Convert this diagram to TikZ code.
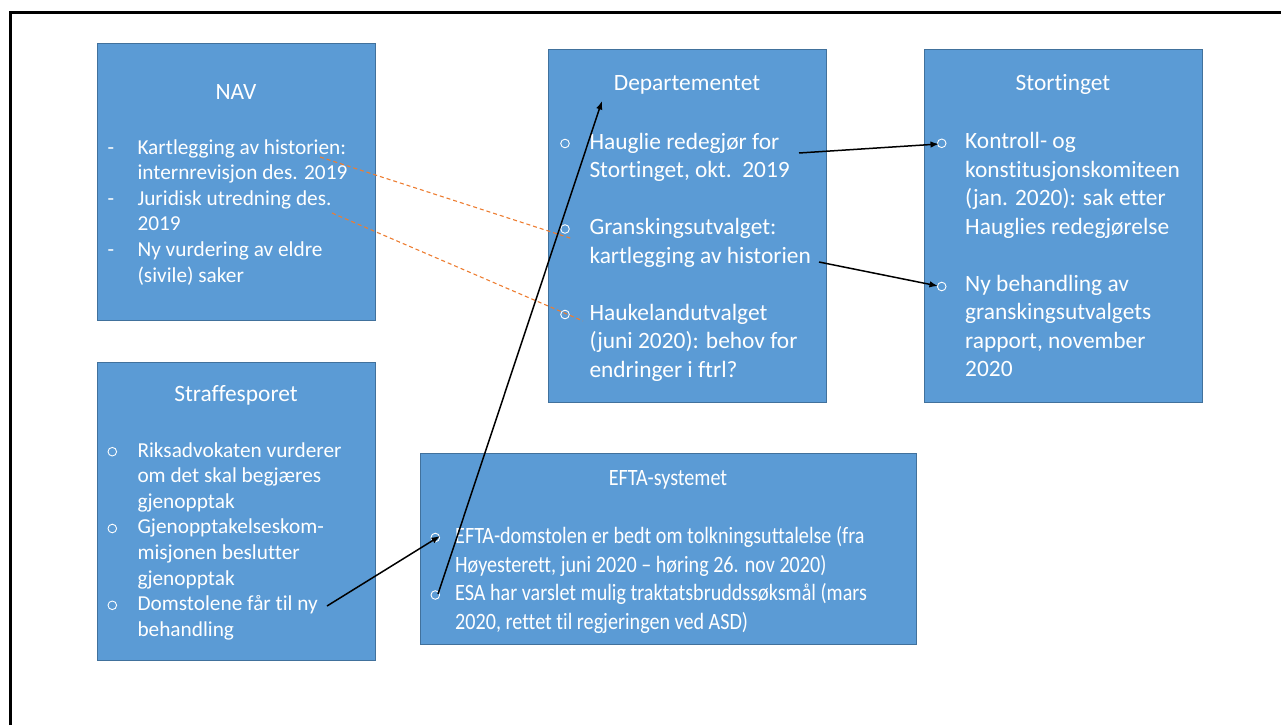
\documentclass[tikz,border=0pt]{standalone}
\usepackage{fontspec}
\setmainfont{Carlito}[Ligatures=CommonOff]
\newfontfamily\condfont[FakeStretch=0.86,Ligatures=CommonOff]{Carlito}
\usetikzlibrary{arrows.meta}
\definecolor{boxfill}{HTML}{5B9BD5}
\definecolor{boxline}{HTML}{41719C}
\definecolor{orangeln}{HTML}{ED7D31}
\newcommand\fbig{\fontsize{23.4}{28.5}\selectfont}
\newcommand\fsml{\fontsize{21.3}{25.6}\selectfont}
\newcommand\fefta{\condfont\fontsize{23.4}{28.5}\selectfont}
\begin{document}
\begin{tikzpicture}[x=1pt,y=-1pt,
  box/.style={draw=boxline, fill=boxfill, line width=1pt, anchor=north west, inner sep=0},
  lnb/.style={text=white, inner sep=0, anchor=base west, font=\fbig},
  lns/.style={text=white, inner sep=0, anchor=base west, font=\fsml},
  lne/.style={text=white, inner sep=0, anchor=base west, font=\fefta},
  bul/.style={circle, draw=white, line width=0.9pt, inner sep=0, minimum size=8.6pt},
  dashs/.style={text=white, inner sep=0, anchor=base, font=\fsml},
  ttl/.style={text=white, inner sep=0, anchor=base, font=\fbig},
  arr/.style={-{Latex[length=8.5pt,width=6.5pt]}, line width=1.5pt, black},
  dsh/.style={orangeln, dash pattern=on 4pt off 3pt, line width=1.1pt}]
\useasboundingbox (0,0) rectangle (1281,725);
\draw[line width=3pt] (10.5,725) -- (10.5,12.5) -- (1281,12.5);

% boxes
\node[box, minimum width=278pt, minimum height=277pt] (nav) at (97,43) {};
\node[box, minimum width=278pt, minimum height=353pt] (dep) at (548,49) {};
\node[box, minimum width=278pt, minimum height=353pt] (sto) at (924,49) {};
\node[box, minimum width=278pt, minimum height=298pt] (str) at (97,362) {};
\node[box, minimum width=496pt, minimum height=191pt] (efta) at (420,453) {};

% titles
\node[ttl] (navT) at (236,99) {NAV};
\node[ttl] (depT) at (687,90.5) {Departementet};
\node[ttl] (stoT) at (1063,90.5) {Stortinget};
\node[ttl] (strT) at (236,401.5) {Straffesporet};
\node[ttl, font=\fefta] (eftaT) at (668,485) {EFTA-systemet};

% NAV
\node[dashs] (navD1) at (111,154) {-};
\node[dashs] (navD2) at (111,205.2) {-};
\node[dashs] (navD3) at (111,256.4) {-};
\node[lns] (navL1) at (137.3,154) {Kartlegging av historien:};
\node[lns] (navL2) at (137.3,179.6) {internrevisjon des. 2019};
\node[lns] (navL3) at (137.3,205.2) {Juridisk utredning des.};
\node[lns] (navL4) at (137.3,230.8) {2019};
\node[lns] (navL5) at (137.3,256.4) {Ny vurdering av eldre};
\node[lns] (navL6) at (137.3,282) {(sivile) saker};

% Departementet
\node[bul] (depB1) at (565,143.5) {};
\node[bul] (depB2) at (565,229) {};
\node[bul] (depB3) at (565,314.5) {};
\node[lnb] (depL1) at (589.3,149) {Hauglie redegjør for};
\node[lnb] (depL2) at (589.3,177.5) {Stortinget, okt.\ \ 2019};
\node[lnb] (depL3) at (589.3,234.5) {Granskingsutvalget:};
\node[lnb] (depL4) at (589.3,263) {kartlegging av historien};
\node[lnb] (depL5) at (589.3,320) {Haukelandutvalget};
\node[lnb] (depL6) at (589.3,348.5) {(juni 2020): behov for};
\node[lnb] (depL7) at (589.3,377) {endringer i ftrl?};

% Stortinget
\node[bul] (stoB1) at (941.7,143.3) {};
\node[bul] (stoB2) at (941.7,286.5) {};
\node[lnb] (stoL1) at (965,148.5) {Kontroll- og};
\node[lnb] (stoL2) at (965,177) {konstitusjonskomiteen};
\node[lnb] (stoL3) at (965,205.5) {(jan. 2020): sak etter};
\node[lnb] (stoL4) at (965,234) {Hauglies redegjørelse};
\node[lnb] (stoL5) at (965,291) {Ny behandling av};
\node[lnb] (stoL6) at (965,319.5) {granskingsutvalgets};
\node[lnb] (stoL7) at (965,348) {rapport, november};
\node[lnb] (stoL8) at (965,376.5) {2020};

% Straffesporet
\node[bul] (strB1) at (112.3,451.7) {};
\node[bul] (strB2) at (112.3,528.5) {};
\node[bul] (strB3) at (112.3,605.3) {};
\node[lns] (strL1) at (137.3,457) {Riksadvokaten vurderer};
\node[lns] (strL2) at (137.3,482.6) {om det skal begjæres};
\node[lns] (strL3) at (137.3,508.2) {gjenopptak};
\node[lns] (strL4) at (137.3,533.8) {Gjenopptakelseskom-};
\node[lns] (strL5) at (137.3,559.4) {misjonen beslutter};
\node[lns] (strL6) at (137.3,585) {gjenopptak};
\node[lns] (strL7) at (137.3,610.6) {Domstolene får til ny};
\node[lns] (strL8) at (137.3,636.2) {behandling};

% EFTA
\node[bul] (eftaB1) at (435.3,537.5) {};
\node[bul] (eftaB2) at (435.3,595) {};
\node[lne] (eftaL1) at (455,543.5) {EFTA-domstolen er bedt om tolkningsuttalelse (fra};
\node[lne] (eftaL2) at (455,572) {Høyesterett, juni 2020 – høring 26. nov 2020)};
\node[lne] (eftaL3) at (455,600.5) {ESA har varslet mulig traktatsbruddssøksmål (mars};
\node[lne] (eftaL4) at (455,629) {2020, rettet til regjeringen ved ASD)};

% connector end points
\coordinate (c1a) at (327,606);
\coordinate (c1b) at (440,536);
\coordinate (c2a) at (438,594);
\coordinate (c2b) at (602,101);
\coordinate (c3a) at (799,153);
\coordinate (c3b) at (939,144);
\coordinate (c4a) at (819,262);
\coordinate (c4b) at (938,286);
\coordinate (o1a) at (320,157);
\coordinate (o1b) at (573,239);
\coordinate (o2a) at (332,213);
\coordinate (o2b) at (583,321);

\draw[dsh] (o1a) -- (o1b);
\draw[dsh] (o2a) -- (o2b);
\draw[arr] (c1a) -- (c1b);
\draw[arr] (c2a) -- (c2b);
\draw[arr] (c3a) -- (c3b);
\draw[arr] (c4a) -- (c4b);
\end{tikzpicture}
\end{document}
